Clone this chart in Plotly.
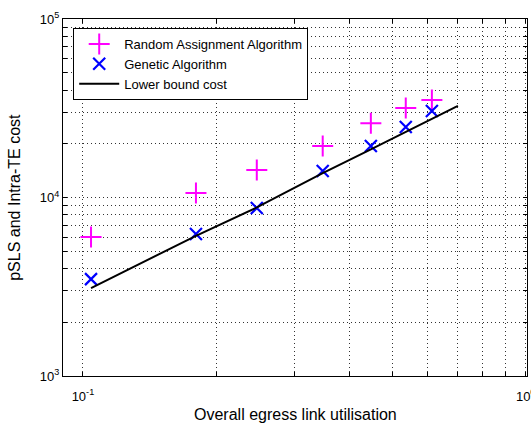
import numpy as np
import plotly.graph_objects as go

# data
x_vals = [0.1043, 0.180, 0.247, 0.348, 0.447, 0.536, 0.614]
random_cost = [6010, 10600, 14260, 19450, 26100, 31700, 35200]
genetic_cost = [3490, 6250, 8730, 14060, 19450, 24830, 30540]
lb_x = [0.1043, 0.180, 0.247, 0.348, 0.447, 0.536, 0.614, 0.703]
lb_cost = [3110, 6100, 8800, 13700, 18600, 23300, 27600, 32600]

x_major = [0.1, 1]
x_major_text = ["10<sup>-1</sup>", "10<sup>0</sup>"]
y_major = [1e3, 1e4, 1e5]
y_major_text = ["10<sup>3</sup>", "10<sup>4</sup>", "10<sup>5</sup>"]
x_title = "Overall egress link utilisation"
y_title = "pSLS and Intra-TE cost"

font = "Liberation Sans, Arial, sans-serif"

def log_ticks(decades):
    vals = []
    for d in decades:
        for m in range(1, 10):
            vals.append(m * 10.0 ** d)
    return vals

xt = [v for v in log_ticks([-2, -1]) if 0.09 <= v <= 1.0] + [1.0]
yt = [v for v in log_ticks([3, 4]) if 1e3 <= v <= 1e5] + [1e5]

def labels(vals, majors, majtext):
    out = []
    for v in vals:
        t = ""
        for m, s in zip(majors, majtext):
            if abs(v - m) / m < 1e-9:
                t = s
        out.append(t)
    return out

fig = go.Figure()
fig.add_trace(go.Scatter(x=x_vals, y=random_cost, mode="markers",
                         name="Random Assignment Algorithm",
                         marker=dict(symbol="cross-thin", size=15, color="#ff00ff",
                                     line=dict(width=2, color="#ff00ff"))))
fig.add_trace(go.Scatter(x=x_vals, y=genetic_cost, mode="markers",
                         name="Genetic Algorithm",
                         marker=dict(symbol="x-thin", size=12, color="#0000ff",
                                     line=dict(width=2.2, color="#0000ff"))))
fig.add_trace(go.Scatter(x=lb_x, y=lb_cost, mode="lines", name="Lower bound cost",
                         line=dict(color="black", width=2)))

axis_common = dict(showline=True, linecolor="black", linewidth=1, mirror="ticks",
                   ticks="inside", ticklen=4, tickcolor="black", automargin=False,
                   ticklabeloverflow="allow",
                   showgrid=True, gridcolor="#333333", griddash="1px,3px", gridwidth=1,
                   zeroline=False, tickfont=dict(family=font, size=13, color="black"))

fig.update_xaxes(type="log", range=[-1.045, 0.003], tickmode="array",
                 tickvals=xt, ticktext=labels(xt, x_major, x_major_text),
                 ticklabelstandoff=8, **axis_common)
fig.update_yaxes(type="log", range=[3, 5], tickmode="array",
                 tickvals=yt, ticktext=labels(yt, y_major, y_major_text),
                 **axis_common)

fig.add_annotation(text=x_title, xref="paper", yref="paper", x=0.5, y=-0.078,
                   xanchor="center", yanchor="top", showarrow=False,
                   font=dict(family=font, size=16, color="black"))
fig.add_annotation(text=y_title, xref="paper", yref="paper", x=-0.105, y=0.5,
                   xanchor="center", yanchor="middle", showarrow=False, textangle=-90,
                   font=dict(family=font, size=16, color="black"))

fig.update_layout(width=531, height=432, plot_bgcolor="white", paper_bgcolor="white",
                  margin=dict(l=63, r=4, t=19, b=56),
                  showlegend=True,
                  legend=dict(x=0.022, y=0.975, xanchor="left", yanchor="top",
                              bgcolor="white", bordercolor="black", borderwidth=1,
                              font=dict(family=font, size=13, color="black"),
                              itemwidth=40, tracegroupgap=0))
fig.write_html("out.html", config={"displayModeBar": False},
               post_script="document.body.style.margin='0';document.body.style.overflow='hidden';")
